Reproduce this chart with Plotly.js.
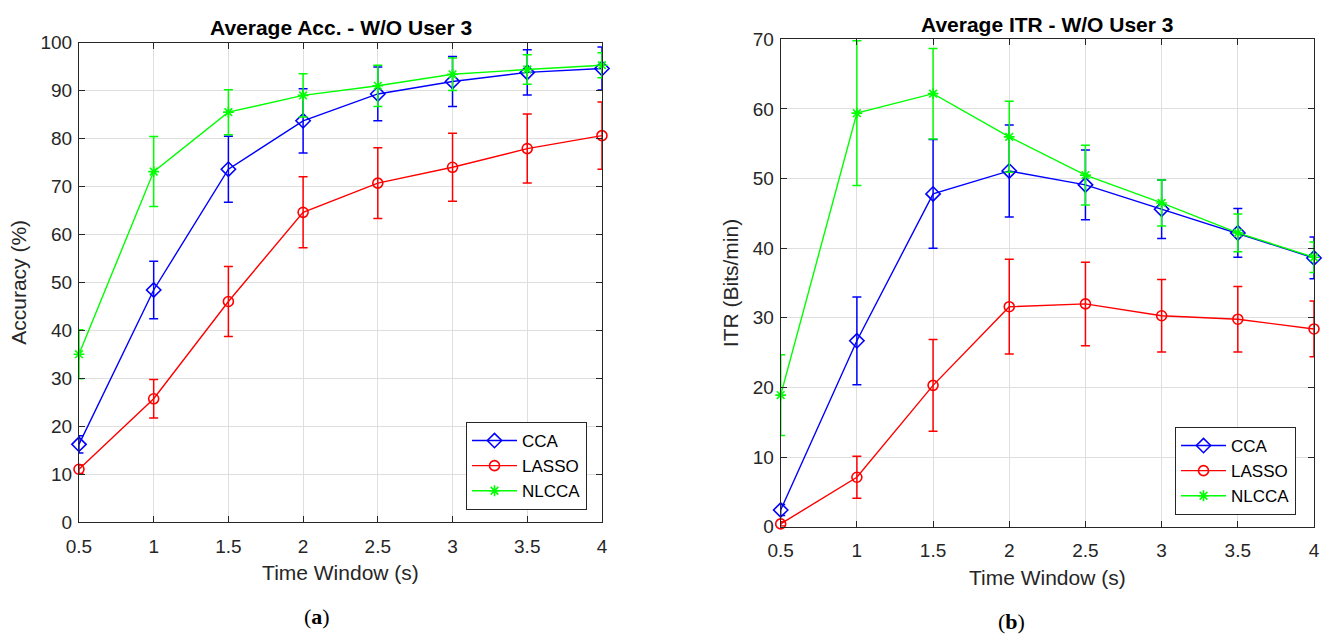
<!DOCTYPE html>
<html>
<head>
<meta charset="utf-8">
<script src="https://cdn.plot.ly/plotly-3.0.1.min.js"></script>
<style>
  html, body { margin: 0; padding: 0; background: #fff; }
  #chart { width: 1325px; height: 635px; }
</style>
</head>
<body>
<div id="chart"></div>
<script>
// Time windows (s)
const timeWindow = [0.5, 1, 1.5, 2, 2.5, 3, 3.5, 4];
const methods = ['CCA', 'LASSO', 'NLCCA'];

// Average accuracy (%) and its error bars
const accCCA      = [16.2, 48.4, 73.6, 83.7, 89.3, 91.9, 93.8, 94.6];
const accCCAErr   = [1.8, 6.0, 6.9, 6.7, 5.6, 5.2, 4.7, 4.5];
const accLASSO    = [11.0, 25.7, 46.0, 64.6, 70.7, 74.0, 77.9, 80.6];
const accLASSOErr = [0.9, 4.0, 7.3, 7.4, 7.4, 7.1, 7.2, 7.0];
const accNLCCA    = [35.0, 73.1, 85.5, 89.0, 91.0, 93.4, 94.4, 95.3];
const accNLCCAErr = [5.1, 7.3, 4.7, 4.5, 4.3, 3.4, 3.1, 2.6];

// Average ITR (bits/min) and its error bars
const itrCCA      = [2.4, 26.7, 47.8, 51.1, 49.1, 45.6, 42.2, 38.6];
const itrCCAErr   = [0.8, 6.3, 7.8, 6.6, 5.0, 4.2, 3.5, 3.0];
const itrLASSO    = [0.4, 7.1, 20.3, 31.6, 32.0, 30.3, 29.8, 28.4];
const itrLASSOErr = [0.3, 3.0, 6.6, 6.8, 6.0, 5.2, 4.7, 4.0];
const itrNLCCA    = [18.9, 59.4, 62.2, 56.0, 50.5, 46.5, 42.2, 38.7];
const itrNLCCAErr = [5.8, 10.4, 6.5, 5.1, 4.3, 3.3, 2.7, 2.2];

const colors  = { CCA: '#0000ff', LASSO: '#ff0000', NLCCA: '#00ff00' };
const symbols = { CCA: 'diamond-open', LASSO: 'circle-open', NLCCA: 'asterisk-open' };
const sizes   = { CCA: 11, LASSO: 10, NLCCA: 9 };

function series(name, y, err, xa, ya, legend) {
  return {
    type: 'scatter', mode: 'lines+markers', name: name,
    x: timeWindow, y: y, xaxis: xa, yaxis: ya, legend: legend,
    cliponaxis: false,
    line: { color: colors[name], width: 1.4 },
    marker: { symbol: symbols[name], size: sizes[name],
              color: colors[name], line: { color: colors[name], width: 1.6 } },
    error_y: { type: 'data', array: err, visible: true,
               color: colors[name], thickness: 1.5, width: 4.5 }
  };
}

const traces = [
  series('CCA',   accCCA,   accCCAErr,   'x',  'y',  'legend'),
  series('LASSO', accLASSO, accLASSOErr, 'x',  'y',  'legend'),
  series('NLCCA', accNLCCA, accNLCCAErr, 'x',  'y',  'legend'),
  series('CCA',   itrCCA,   itrCCAErr,   'x2', 'y2', 'legend2'),
  series('LASSO', itrLASSO, itrLASSOErr, 'x2', 'y2', 'legend2'),
  series('NLCCA', itrNLCCA, itrNLCCAErr, 'x2', 'y2', 'legend2')
];

const axisColor = '#262626';
const sans = 'Liberation Sans, Arial, sans-serif';
const tickFont = { family: sans, size: 19, color: axisColor };
const titleFont = { family: sans, size: 21, color: axisColor };

function xAxis(domain, anchor) {
  return {
    domain: domain, anchor: anchor, range: [0.5, 4],
    tickvals: timeWindow, ticktext: timeWindow.map(String),
    ticks: 'inside', ticklen: 6, tickcolor: axisColor, tickwidth: 1,
    ticklabelstandoff: 7,
    showline: true, linecolor: axisColor, linewidth: 1, mirror: 'allticks',
    showgrid: true, gridcolor: '#dfdfdf', gridwidth: 1, zeroline: false,
    tickfont: tickFont, automargin: false,
    title: { text: 'Time Window (s)', font: titleFont, standoff: 9 }
  };
}
function yAxis(domain, anchor, max, label) {
  return {
    domain: domain, anchor: anchor, range: [0, max], dtick: 10,
    ticks: 'inside', ticklen: 6, tickcolor: axisColor, tickwidth: 1,
    ticklabelstandoff: 2,
    showline: true, linecolor: axisColor, linewidth: 1, mirror: 'allticks',
    showgrid: true, gridcolor: '#dfdfdf', gridwidth: 1, zeroline: false,
    tickfont: tickFont, automargin: false,
    title: { text: label, font: titleFont, standoff: 8 }
  };
}

const legendBase = {
  bgcolor: '#ffffff', bordercolor: axisColor, borderwidth: 1,
  font: { family: sans, size: 17, color: '#000' },
  xanchor: 'left', yanchor: 'top', itemwidth: 45, tracegroupgap: 0
};

const titleStyle = { family: sans, size: 21, color: '#000' };
const captionStyle = { family: 'Liberation Serif, DejaVu Serif, serif', size: 22, color: '#000' };

const layout = {
  width: 1325, height: 635,
  margin: { l: 0, r: 0, t: 0, b: 0 },
  paper_bgcolor: '#ffffff', plot_bgcolor: '#ffffff',
  showlegend: true,
  xaxis:  xAxis([0.0596, 0.4543], 'y'),
  yaxis:  yAxis([0.178, 0.9328], 'x', 100, 'Accuracy (%)'),
  xaxis2: xAxis([0.5892, 0.9917], 'y2'),
  yaxis2: yAxis([0.1706, 0.938], 'x2', 70, 'ITR (Bits/min)'),
  legend:  Object.assign({ x: 0.3517, y: 1 - 422 / 635 }, legendBase),
  legend2: Object.assign({ x: 0.8868, y: 1 - 427 / 635 }, legendBase),
  annotations: [
    { text: '<b>Average Acc. - W/O User 3</b>', xref: 'paper', yref: 'paper',
      x: 0.257, y: 1 - 27 / 635, xanchor: 'center', yanchor: 'middle',
      showarrow: false, font: titleStyle },
    { text: '<b>Average ITR - W/O User 3</b>', xref: 'paper', yref: 'paper',
      x: 0.7905, y: 1 - 24 / 635, xanchor: 'center', yanchor: 'middle',
      showarrow: false, font: titleStyle },
    { text: '(<b>a</b>)', xref: 'paper', yref: 'paper',
      x: 317 / 1325, y: 1 - 616 / 635, xanchor: 'center', yanchor: 'middle',
      showarrow: false, font: captionStyle },
    { text: '(<b>b</b>)', xref: 'paper', yref: 'paper',
      x: 1011 / 1325, y: 1 - 621 / 635, xanchor: 'center', yanchor: 'middle',
      showarrow: false, font: captionStyle }
  ]
};

Plotly.newPlot('chart', traces, layout, { displayModeBar: false, staticPlot: true });
</script>
</body>
</html>
